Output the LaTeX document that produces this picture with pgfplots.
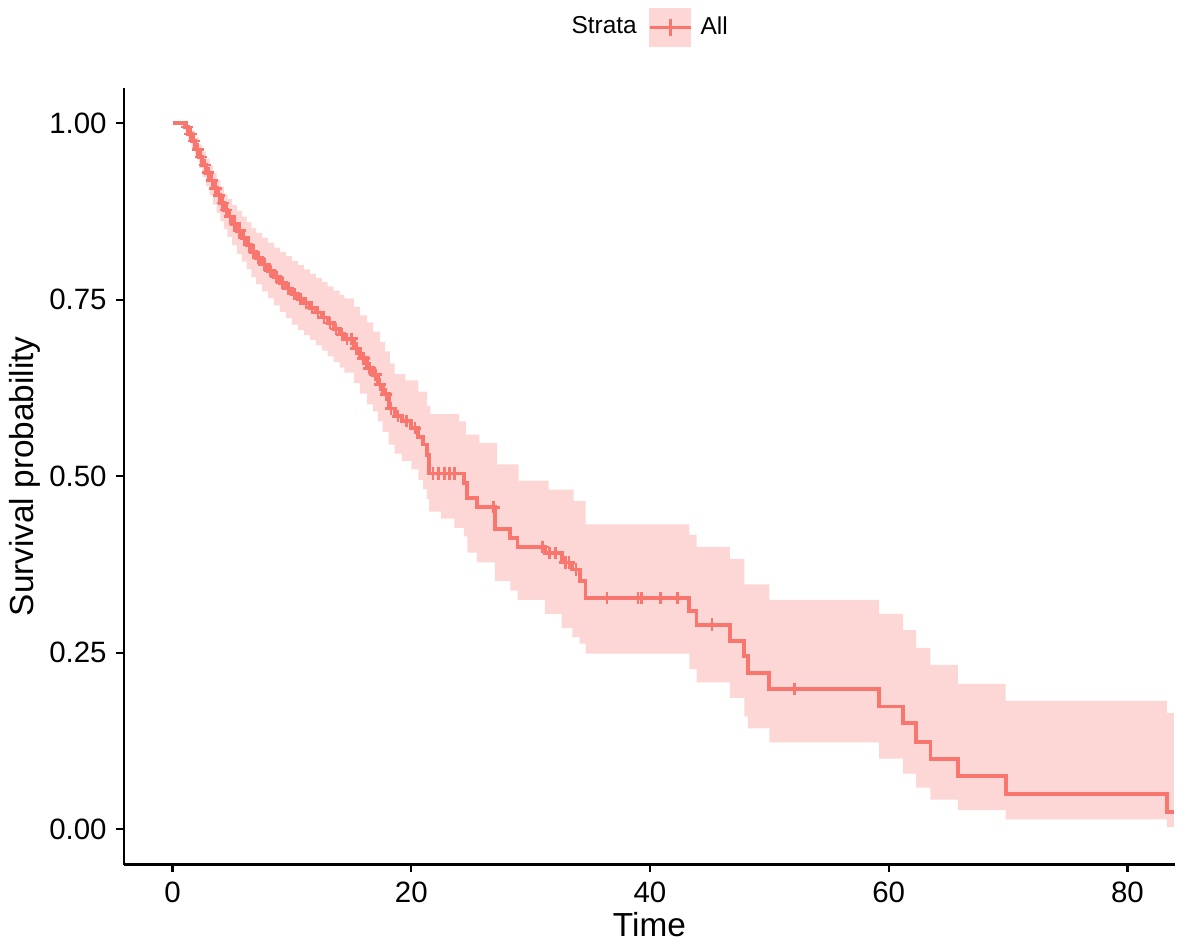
\documentclass[border=0pt]{standalone}
\usepackage{pgfplots}
\pgfplotsset{compat=1.18}
\usepackage{pgfplotstable}
\usepackage{fontspec}
\setmainfont{Liberation Sans}
\usepgfplotslibrary{fillbetween}
\definecolor{kmred}{RGB}{248,118,109}
\definecolor{kmband}{RGB}{253,215,213}

\pgfplotstableread{
t s
0 1.000
1.0 0.995
1.3 0.985
1.6 0.975
1.9 0.963
2.2 0.952
2.5 0.941
2.8 0.930
3.1 0.919
3.4 0.908
3.7 0.898
4.0 0.887
4.3 0.877
4.6 0.868
5.0 0.858
5.4 0.848
5.8 0.838
6.2 0.828
6.6 0.818
7.0 0.809
7.5 0.800
8.0 0.791
8.5 0.782
9.0 0.774
9.5 0.766
10.0 0.758
10.5 0.751
11.0 0.745
11.5 0.739
12.0 0.732
12.5 0.725
13.0 0.717
13.5 0.709
14.0 0.701
14.4 0.695
15.2 0.681
15.7 0.667
16.3 0.653
16.8 0.644
17.2 0.630
17.6 0.616
18.1 0.596
18.6 0.585
19.2 0.578
20.0 0.568
20.6 0.556
21.0 0.545
21.3 0.530
21.5 0.504
24.4 0.490
24.7 0.469
25.5 0.456
27.0 0.425
28.3 0.412
28.9 0.400
31.2 0.391
32.6 0.378
33.5 0.368
34.1 0.352
34.6 0.328
43.3 0.309
43.9 0.290
46.7 0.267
47.9 0.245
48.2 0.222
50.0 0.199
59.2 0.174
61.2 0.150
62.3 0.124
63.5 0.100
65.8 0.075
69.8 0.050
83.3 0.024
83.9 0.024
}\survtab

\pgfplotstableread{
t u
0 1.000
1.3 0.995
1.6 0.990
1.9 0.980
2.2 0.970
2.5 0.960
2.8 0.950
3.1 0.940
3.4 0.930
3.7 0.920
4.0 0.910
4.3 0.900
4.6 0.893
5.0 0.884
5.4 0.876
5.8 0.868
6.2 0.860
6.6 0.852
7.0 0.845
7.5 0.838
8.0 0.831
8.5 0.824
9.0 0.818
9.5 0.812
10.0 0.805
10.5 0.799
11.0 0.793
11.5 0.787
12.0 0.781
12.5 0.775
13.0 0.769
13.5 0.763
14.0 0.757
14.4 0.752
15.2 0.740
15.7 0.728
16.3 0.718
16.8 0.705
17.4 0.690
17.8 0.677
18.2 0.660
18.6 0.645
19.5 0.636
20.6 0.620
21.3 0.600
21.6 0.588
24.0 0.578
24.6 0.559
25.7 0.547
27.2 0.517
29.0 0.494
31.5 0.481
33.6 0.465
34.6 0.432
43.3 0.417
43.9 0.400
46.7 0.383
47.9 0.347
50.0 0.325
59.2 0.305
61.2 0.282
62.3 0.257
63.5 0.233
65.8 0.206
69.8 0.182
83.3 0.165
83.9 0.165
}\uptab

\pgfplotstableread{
t l
0 1.000
1.0 0.990
1.3 0.978
1.6 0.965
1.9 0.950
2.2 0.937
2.5 0.924
2.8 0.911
3.1 0.898
3.4 0.885
3.7 0.873
4.0 0.861
4.3 0.850
4.6 0.839
5.0 0.827
5.4 0.815
5.8 0.804
6.2 0.793
6.6 0.782
7.0 0.772
7.5 0.762
8.0 0.752
8.5 0.742
9.0 0.733
9.5 0.724
10.0 0.715
10.5 0.707
11.0 0.700
11.5 0.693
12.0 0.686
12.5 0.678
13.0 0.670
13.5 0.662
14.0 0.654
14.4 0.647
15.2 0.632
15.7 0.617
16.3 0.602
16.8 0.592
17.2 0.578
17.6 0.563
18.1 0.545
18.6 0.532
19.2 0.522
20.0 0.510
20.6 0.495
21.0 0.482
21.3 0.468
21.5 0.450
22.5 0.440
23.6 0.427
24.4 0.415
24.7 0.392
25.5 0.378
27.0 0.352
28.3 0.338
28.9 0.325
31.2 0.305
32.6 0.285
33.5 0.272
34.1 0.263
34.6 0.249
43.3 0.227
43.9 0.208
46.7 0.186
47.9 0.160
48.2 0.143
50.0 0.123
59.2 0.100
61.2 0.079
62.3 0.059
63.5 0.042
65.8 0.027
69.8 0.014
83.3 0.003
83.9 0.003
}\lotab

\pgfplotstableread{
t s
1.2 0.995
1.5 0.985
1.8 0.975
2.1 0.963
2.4 0.952
2.7 0.941
3.0 0.930
3.3 0.919
3.6 0.908
3.9 0.898
4.2 0.887
4.5 0.877
4.8 0.868
5.2 0.858
5.6 0.848
6.0 0.838
6.4 0.828
6.8 0.818
7.2 0.809
7.7 0.800
8.2 0.791
8.7 0.782
9.2 0.774
9.7 0.766
10.2 0.758
10.7 0.751
11.2 0.745
11.7 0.739
12.2 0.732
12.7 0.725
13.2 0.717
13.7 0.709
14.2 0.701
14.6 0.695
15.0 0.695
15.4 0.681
16.0 0.667
16.5 0.653
17.0 0.644
17.4 0.630
17.9 0.616
18.3 0.596
18.9 0.585
19.6 0.578
20.3 0.568
21.8 0.504
22.3 0.504
22.8 0.504
23.2 0.504
23.6 0.504
26.9 0.456
31.0 0.400
31.6 0.391
32.1 0.391
32.9 0.378
33.2 0.378
33.8 0.368
36.4 0.328
39.0 0.328
39.3 0.328
40.9 0.328
42.3 0.328
45.2 0.290
52.1 0.199
}\censtab

\begin{document}
\begin{tikzpicture}
\begin{axis}[
  scale only axis,
  width=378.6pt, height=279.6pt,
  xmin=-4.1, xmax=84, ymin=-0.05, ymax=1.05,
  axis lines=left,
  axis line style={-, line width=0.8pt, black},
  xtick={0,20,40,60,80},
  ytick={0,0.25,0.5,0.75,1},
  yticklabel style={/pgf/number format/.cd, fixed, fixed zerofill, precision=2},
  /pgf/number format/assume math mode=true,
  tick align=outside,
  major tick length=2.6pt,
  tick style={black, line width=0.8pt},
  ticklabel style={font=\fontsize{10.6}{12}\selectfont, black},
  xlabel={Time}, ylabel={Survival probability},
  every axis x label/.style={at={(axis description cs:0.5,-0.077)}, anchor=center,
    font=\fontsize{12}{14}\selectfont},
  every axis y label/.style={at={(axis description cs:-0.094,0.5)}, anchor=center, rotate=90,
    font=\fontsize{12}{14}\selectfont},
  legend style={at={(axis description cs:0.499,1.078)}, anchor=center, draw=none, fill=none,
    font=\fontsize{8.8}{10}\selectfont,
    /tikz/every odd column/.append style={column sep=1pt},
    /tikz/every even column/.append style={column sep=2pt}},
  legend columns=-1,
]
\addlegendimage{empty legend}
\addlegendentry{Strata}
\addlegendimage{legend image code/.code={
  \fill[kmband] (0pt,-6.9pt) rectangle (14.7pt,6.9pt);
  \draw[kmred, line width=1.3pt] (0pt,0pt) -- (14.7pt,0pt);
  \draw[kmred, line width=1.0pt] (7.35pt,-3.2pt) -- (7.35pt,3.2pt);}}
\addlegendentry{All}

\addplot[name path=up, draw=none, const plot, forget plot] table[x=t, y=u] {\uptab};
\addplot[name path=lo, draw=none, const plot, forget plot] table[x=t, y=l] {\lotab};
\addplot[kmband, draw=none, forget plot] fill between[of=up and lo];

\addplot[kmred, line width=1.4pt, const plot, forget plot] table[x=t, y=s] {\survtab};
\addplot[kmred, only marks, mark=+, mark size=2.2pt, mark options={line width=0.9pt}, forget plot] table[x=t, y=s] {\censtab};
\end{axis}
\path (-44.3pt,-28.4pt) rectangle (380.7pt,311.3pt);
\end{tikzpicture}
\end{document}
